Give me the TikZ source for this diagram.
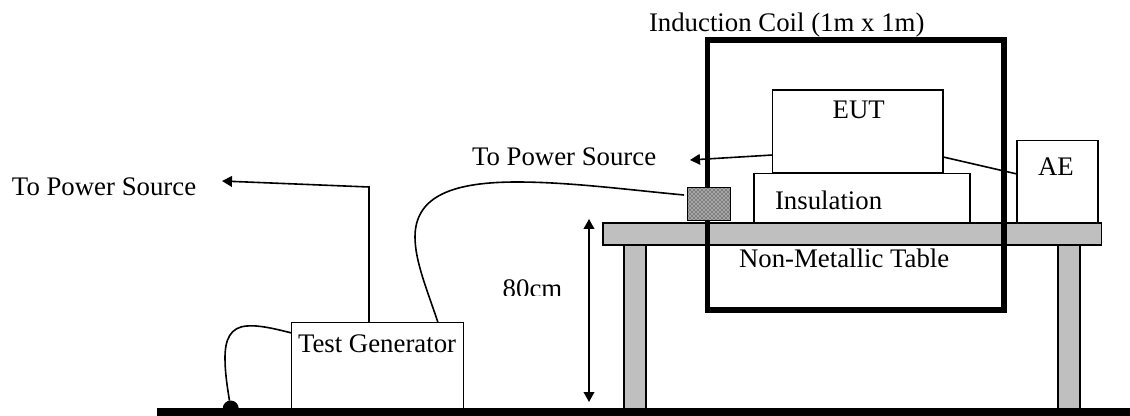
\documentclass[tikz,border=0pt]{standalone}
\usepackage{fontspec}
\setmainfont{Liberation Serif}
\usetikzlibrary{arrows.meta,patterns}
\tikzset{
  sz/.style 2 args={minimum width=#1*0.75pt,minimum height=#2*0.75pt},
  boxx/.style={draw=black,fill=white,line width=1.15pt,inner sep=0pt,outer sep=0pt,anchor=north west},
  graybox/.style={boxx,fill=tablegray},
  coilbox/.style={draw=black,line width=3.9pt,inner sep=0pt,outer sep=0pt,anchor=north west},
  floorbar/.style={fill=black,draw=none,inner sep=0pt,outer sep=0pt,anchor=north west},
  lbl/.style={font=\fontsize{20.1}{24}\selectfont,inner sep=0pt,outer sep=0pt,anchor=base west},
  wire/.style={draw=black,line width=1.2pt},
  arrowwire/.style={wire,-{Triangle[length=7.5pt,width=8pt]}},
  dimwire/.style={wire,{Triangle[length=7.5pt,width=8pt]}-{Triangle[length=7.5pt,width=8pt]}},
}
\definecolor{tablegray}{HTML}{BFBFBF}
\begin{document}
\begin{tikzpicture}[x=0.75pt,y=-0.75pt]
\useasboundingbox (0,0) rectangle (1130,416);
% ground point and floor
\node[fill=black,circle,inner sep=0pt,minimum size=12pt,outer sep=0pt] (gnd) at (230.7,408.5) {};
\node[floorbar,sz={973}{8}] (floor) at (157,408) {};
% table
\node[graybox,sz={22}{164}] (legL) at (624,245) {};
\node[graybox,sz={22}{164}] (legR) at (1058,245) {};
\node[graybox,sz={498.5}{22}] (top) at (603,223) {};
% coil
\node[coilbox,sz={296.5}{270}] (coil) at (707.5,40) {};
% boxes
\node[boxx,sz={216}{49}] (ins) at (754,173.5) {};
\node[boxx,sz={170.5}{83}] (eut) at (772.7,90) {};
\node[boxx,sz={81}{82}] (ae) at (1017,140.5) {};
\node[boxx,sz={172}{86}] (gen) at (291.7,322.7) {};
\node[boxx,fill=gray!70,sz={43}{33}] (cdn) at (687.7,187.7) {};
\fill[pattern=crosshatch dots,pattern color=black] (cdn.south west) rectangle (cdn.north east);
\draw[line width=1.15pt] (cdn.south west) rectangle (cdn.north east);
% free ends
\coordinate (psL) at (222,181);
\coordinate (bend) at (369,187);
\coordinate (psR) at (690,160);
\coordinate (dimT) at (589,219);
\coordinate (dimB) at (589,402);
\coordinate (genW) at (369,322.7);
\coordinate (genC) at (438,322.7);
\coordinate (genG) at (291.7,333);
\coordinate (cdnW) at (684,195);
\coordinate (eutW) at (772.7,155);
\coordinate (eutE) at (943.2,157);
\coordinate (aeW) at (1017,174);
% connectors
\draw[arrowwire] (genW) -- (bend) -- (psL);
\draw[arrowwire] (eutW) -- (psR);
\draw[wire] (eutE) -- (aeW);
\draw[dimwire] (dimT) -- (dimB);
\draw[wire] (genC) .. controls (428,292) and (415,262) .. (415,237)
  .. controls (415,195) and (455,182) .. (517,182)
  .. controls (570,182) and (630,190) .. (cdnW);
\draw[wire] (genG) .. controls (272,328) and (258,325) .. (247,326)
  .. controls (230,327) and (225,340) .. (225,358)
  .. controls (225,372) and (227,385) .. (gnd);
% labels
\node[lbl] (t1) at (649,32) {Induction Coil (1m x 1m)};
\node[lbl] (t2) at (832.7,119) {EUT};
\node[lbl] (t3) at (775,210) {Insulation};
\node[lbl] (t4) at (1038,175.7) {AE};
\node[lbl] (t5) at (739,268) {Non-Metallic Table};
\node[lbl] (t6) at (298,352) {Test Generator};
\node[lbl] (t7) at (12,195.5) {To Power Source};
\node[lbl] (t8) at (472,166) {To Power Source};
\begin{scope}
\clip (490,270) rectangle (570,296);
\node[lbl] (t9) at (502.7,297) {80cm};
\end{scope}
\end{tikzpicture}
\end{document}
